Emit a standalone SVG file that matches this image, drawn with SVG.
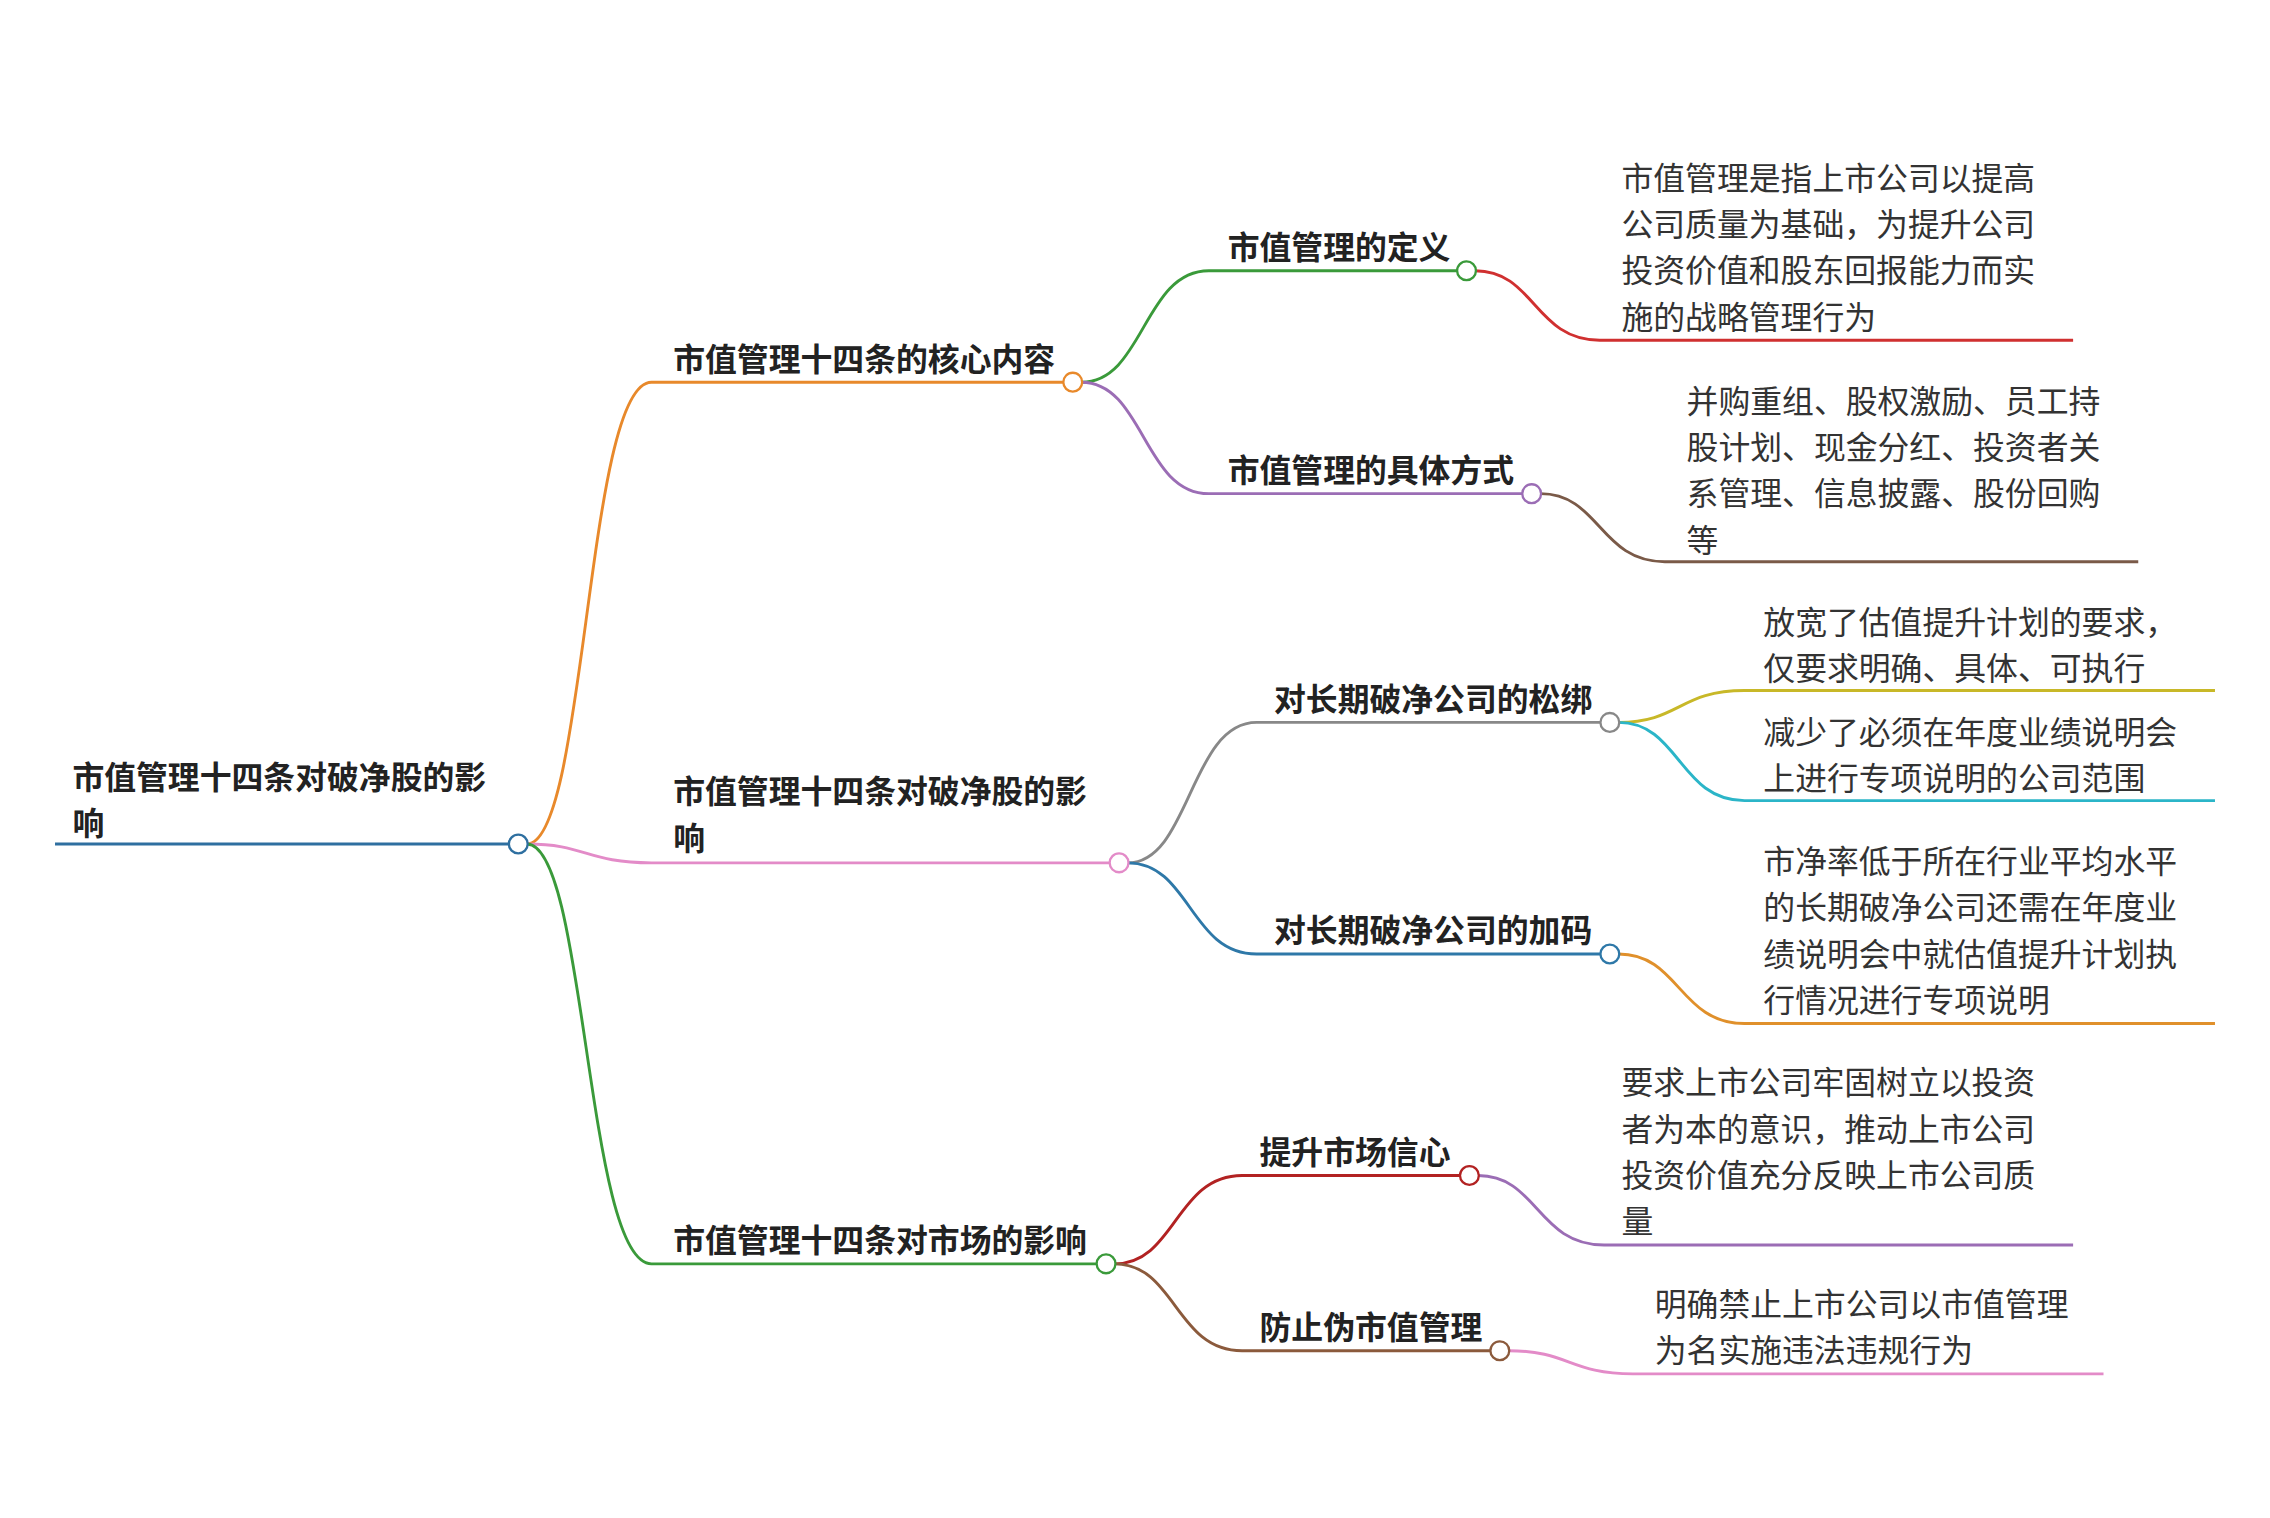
<svg xmlns="http://www.w3.org/2000/svg" width="2270" height="1518" viewBox="0 0 2270 1518">
<style>
.t{font-family:"Liberation Sans","Noto Sans CJK SC",sans-serif;font-size:22px;font-weight:bold;fill:#222}
.l{font-family:"Liberation Sans","Noto Sans CJK SC",sans-serif;font-size:22px;fill:#333}
path{fill:none;stroke-width:2}
circle{fill:#fff;stroke-width:1.6}
</style>
<rect width="2270" height="1518" fill="#fff"/>
<g transform="scale(1.4477)">
<g id="connectors">
<path d="M38 583H358" stroke="#2E6FA0" stroke-width="3"/>
<path d="M364 583C405 583 405 264 450 264H741" stroke="#E8892B"/>
<path d="M364 583C405 583 405 596 450 596H773" stroke="#E38BC8"/>
<path d="M364 583C405 583 405 873 450 873H764" stroke="#3A9A3A"/>
<path d="M747 264C790 264 790 187 835 187H1013" stroke="#3A9A3A"/>
<path d="M747 264C790 264 790 341 835 341H1058" stroke="#9B6DB5"/>
<path d="M779 596C822 596 822 499 868 499H1112" stroke="#888"/>
<path d="M779 596C822 596 822 659 868 659H1112" stroke="#2E78A8"/>
<path d="M770 873C812 873 812 812 858 812H1015" stroke="#B22222"/>
<path d="M770 873C812 873 812 933 858 933H1036" stroke="#8B5A3C"/>
<path d="M1019 187C1060 187 1060 235 1105 235H1432" stroke="#D03030"/>
<path d="M1064 341C1105 341 1105 388 1150 388H1477" stroke="#7A5A48"/>
<path d="M1118 499C1160 499 1160 477 1205 477H1530" stroke="#C8B828"/>
<path d="M1118 499C1160 499 1160 553 1205 553H1530" stroke="#2BB5C8"/>
<path d="M1118 659C1160 659 1160 707 1205 707H1530" stroke="#E0902B"/>
<path d="M1021 812C1062 812 1062 860 1108 860H1432" stroke="#9B6DB5"/>
<path d="M1042 933C1084 933 1084 949 1128 949H1453" stroke="#E38BC8"/>
</g>
<g id="root"><text class="t" x="50" y="545">市值管理十四条对破净股的影</text><text class="t" x="50" y="577">响</text><circle cx="358" cy="583" r="6.5" stroke="#2E6FA0"/></g>
<g id="nA"><text class="t" x="465" y="256">市值管理十四条的核心内容</text><circle cx="741" cy="264" r="6.5" stroke="#E8892B"/></g>
<g id="nB"><text class="t" x="465" y="555">市值管理十四条对破净股的影</text><text class="t" x="465" y="587">响</text><circle cx="773" cy="596" r="6.5" stroke="#E38BC8"/></g>
<g id="nC"><text class="t" x="465" y="865">市值管理十四条对市场的影响</text><circle cx="764" cy="873" r="6.5" stroke="#3A9A3A"/></g>
<g id="nA1"><text class="t" x="848" y="179">市值管理的定义</text><circle cx="1013" cy="187" r="6.5" stroke="#3A9A3A"/></g>
<g id="nA2"><text class="t" x="848" y="333">市值管理的具体方式</text><circle cx="1058" cy="341" r="6.5" stroke="#9B6DB5"/></g>
<g id="nB1"><text class="t" x="880" y="491">对长期破净公司的松绑</text><circle cx="1112" cy="499" r="6.5" stroke="#888"/></g>
<g id="nB2"><text class="t" x="880" y="651">对长期破净公司的加码</text><circle cx="1112" cy="659" r="6.5" stroke="#2E78A8"/></g>
<g id="nC1"><text class="t" x="870" y="804">提升市场信心</text><circle cx="1015" cy="812" r="6.5" stroke="#B22222"/></g>
<g id="nC2"><text class="t" x="870" y="925">防止伪市值管理</text><circle cx="1036" cy="933" r="6.5" stroke="#8B5A3C"/></g>
<g id="lA1"><text class="l" x="1120" y="131">市值管理是指上市公司以提高</text><text class="l" x="1120" y="163">公司质量为基础，为提升公司</text><text class="l" x="1120" y="195">投资价值和股东回报能力而实</text><text class="l" x="1120" y="227">施的战略管理行为</text></g>
<g id="lA2"><text class="l" x="1165" y="285">并购重组、股权激励、员工持</text><text class="l" x="1165" y="317">股计划、现金分红、投资者关</text><text class="l" x="1165" y="349">系管理、信息披露、股份回购</text><text class="l" x="1165" y="381">等</text></g>
<g id="lB1a"><text class="l" x="1218" y="438">放宽了估值提升计划的要求，</text><text class="l" x="1218" y="470">仅要求明确、具体、可执行</text></g>
<g id="lB1b"><text class="l" x="1218" y="514">减少了必须在年度业绩说明会</text><text class="l" x="1218" y="546">上进行专项说明的公司范围</text></g>
<g id="lB2"><text class="l" x="1218" y="603">市净率低于所在行业平均水平</text><text class="l" x="1218" y="635">的长期破净公司还需在年度业</text><text class="l" x="1218" y="667">绩说明会中就估值提升计划执</text><text class="l" x="1218" y="699">行情况进行专项说明</text></g>
<g id="lC1"><text class="l" x="1120" y="756">要求上市公司牢固树立以投资</text><text class="l" x="1120" y="788">者为本的意识，推动上市公司</text><text class="l" x="1120" y="820">投资价值充分反映上市公司质</text><text class="l" x="1120" y="852">量</text></g>
<g id="lC2"><text class="l" x="1143" y="909">明确禁止上市公司以市值管理</text><text class="l" x="1143" y="941">为名实施违法违规行为</text></g>
</g>
</svg>
